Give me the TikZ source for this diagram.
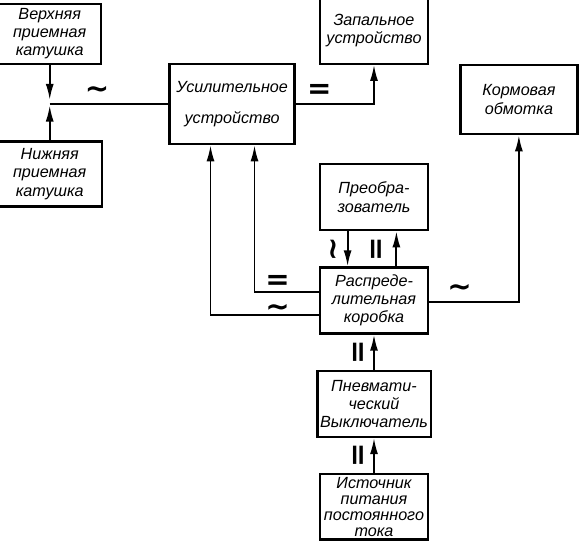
\documentclass[tikz,border=0pt]{standalone}
\usepackage{fontspec}
\setmainfont{Liberation Sans}
\newfontfamily\signfont{DejaVu Sans}
\usetikzlibrary{arrows.meta,positioning}

\newcommand{\acsign}{{\signfont\bfseries ∼}}
\newcommand{\dcsign}{{\signfont\bfseries =}}
\newcommand{\dcvert}{\rotatebox{90}{\dcsign}}

\begin{document}
\begin{tikzpicture}[
  box/.style={draw, line width=1.7pt, minimum width=2.7cm, minimum height=1.65cm, align=center, inner sep=2pt, font=\fontsize{11.5}{13}\selectfont\itshape},
  lbl/.style={font=\huge, inner sep=0pt},
  arr/.style={-{Latex[length=4mm,width=2mm]}, line width=1.3pt},
  ln/.style={line width=1.3pt}
]
\useasboundingbox (-9.35,-6.0625) rectangle (5.15,7.5125);
\node[box] (raspr) {Распреде-\\лительная\\коробка};
\node[box, above=0.875cm of raspr] (preob) {Преобра-\\зователь};
\node[box, below=0.875cm of raspr] (pnevm) {Пневмати-\\ческий\\Выключатель};
\node[box, below=0.875cm of pnevm, minimum height=1.575cm, font=\fontsize{11.5}{11.5}\selectfont\itshape] (istoch) {Источник\\питания\\постоянного\\тока};
\node[box, above=2.45cm of preob] (zapal) {Запальное\\устройство};
\node[box, above left=3.025cm and 0.575cm of raspr, minimum width=3.125cm, minimum height=2cm] (usil) {Усилительное\\[9pt]устройство};
\node[box, above right=3.275cm and 0.75cm of raspr, minimum width=2.925cm, minimum height=1.725cm] (korm) {Кормовая\\обмотка};
\node[box, above left=-0.05cm and 1.65cm of usil, minimum width=2.575cm, minimum height=1.5cm] (verkh) {Верхняя\\приемная\\катушка};
\node[box, below=1.885cm of verkh, minimum width=2.625cm, minimum height=1.625cm] (nizh) {Нижняя\\приемная\\катушка};

% receiving coils
\coordinate (jn) at (verkh.south |- usil.west);
\draw[arr, shorten >=3pt] (verkh.south) -- (jn);
\draw[arr, shorten >=1pt] (nizh.north) -- (jn);
\draw[ln] (jn) -- node[lbl, above, pos=0.4, yshift=3pt]{\acsign} (usil.west);
\draw[arr] (usil.east) -| node[lbl, above, pos=0.15, yshift=3pt]{\dcsign} (zapal.south);

% distribution box
\draw[arr] ([yshift=-0.36cm]raspr.west) -| node[lbl, above, pos=0.19, yshift=-2pt]{\acsign} ([xshift=-0.54cm]usil.south);
\draw[arr] ([yshift=0.21cm]raspr.west) -| node[lbl, above, pos=0.32, yshift=1pt]{\dcsign} ([xshift=0.56cm]usil.south);
\draw[arr] ([yshift=-0.04cm]raspr.east) -| node[lbl, above, pos=0.17, yshift=3pt]{\acsign} (korm.south);
\draw[arr] ([xshift=-0.66cm]preob.south) -- node[lbl, left, xshift=-3pt]{\rotatebox{90}{\acsign}} ([xshift=-0.66cm]raspr.north);
\draw[arr] ([xshift=0.56cm]raspr.north) -- node[lbl, left, xshift=-7pt]{\dcvert} ([xshift=0.56cm]preob.south);
\draw[arr] (pnevm.north) -- node[lbl, left, xshift=-4pt]{\dcvert} (raspr.south);
\draw[arr] (istoch.north) -- node[lbl, left, xshift=-4pt]{\dcvert} (pnevm.south);
\end{tikzpicture}
\end{document}
